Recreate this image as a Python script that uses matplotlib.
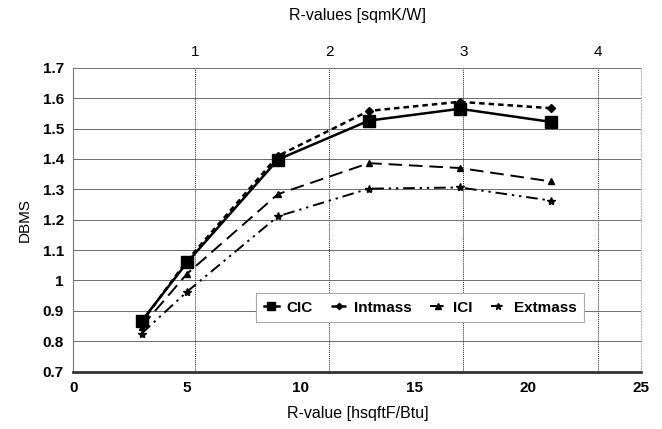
import matplotlib.pyplot as plt
from matplotlib.ticker import FuncFormatter

plt.rcParams['font.family'] = ['Liberation Sans', 'DejaVu Sans']

# R-value in hsqftF/Btu
r_ip = [3, 5, 9, 13, 17, 21]

cic = [0.866, 1.059, 1.398, 1.526, 1.565, 1.522]
intmass = [0.862, 1.066, 1.410, 1.558, 1.588, 1.567]
ici = [0.848, 1.022, 1.284, 1.386, 1.370, 1.326]
extmass = [0.825, 0.963, 1.211, 1.302, 1.306, 1.263]

top_ticks = [1, 2, 3, 4]
# top axis as drawn in the source (roughly the SI conversion)
SI_SCALE = 5.91
SI_OFFSET = -0.57

fig = plt.figure(figsize=(6.62, 4.29), dpi=100)
ax = fig.add_axes([0.111, 0.134, 0.858, 0.708])

ax.plot(r_ip, cic, '-', color='black', lw=1.8, marker='s', ms=8, label='CIC')
ax.plot(r_ip, intmass, color='black', lw=1.8, ls=(0, (2.2, 1.6)), marker='D', ms=4, label='Intmass')
ax.plot(r_ip, ici, color='black', lw=1.4, ls=(0, (7, 3.5)), marker='^', ms=5, label='ICI')
ax.plot(r_ip, extmass, color='black', lw=1.4, ls=(0, (6, 2.5, 1.2, 2.5, 1.2, 2.5)), marker='*', ms=6, label='Extmass')

ax.set_xlim(0, 25)
ax.set_ylim(0.7, 1.7)
ax.set_xticks([0, 5, 10, 15, 20, 25])
ax.set_yticks([0.7, 0.8, 0.9, 1.0, 1.1, 1.2, 1.3, 1.4, 1.5, 1.6, 1.7])
ax.yaxis.set_major_formatter(FuncFormatter(lambda v, p: '%g' % round(v, 1)))
ax.tick_params(axis='both', length=0, labelsize=11, pad=7)
for lab in ax.get_xticklabels() + ax.get_yticklabels():
    lab.set_fontweight('bold')
ax.yaxis.grid(True, color='#555555', lw=0.6)
ax.set_axisbelow(True)

ax.spines['left'].set_color('#777777')
ax.spines['bottom'].set_color('#333333')
ax.spines['bottom'].set_linewidth(2)
ax.spines['top'].set_visible(False)
ax.spines['right'].set_color('#bbbbbb')
ax.spines['right'].set_linestyle(':')

sec = ax.secondary_xaxis('top', functions=(lambda x: (x - SI_OFFSET) / SI_SCALE,
                                           lambda s: s * SI_SCALE + SI_OFFSET))
sec.set_xticks(top_ticks)
sec.tick_params(length=0, labelsize=11, pad=6)
sec.spines['top'].set_visible(False)
for t in top_ticks:
    ax.axvline(t * SI_SCALE + SI_OFFSET, color='#222222', lw=0.7, ls=(0, (1, 1)), zorder=0.5)
sec.set_xlabel('R-values [sqmK/W]', fontsize=11.5, labelpad=18)

ax.set_xlabel('R-value [hsqftF/Btu]', fontsize=11.5, labelpad=8)
ax.set_ylabel('DBMS', fontsize=11, labelpad=8)

leg = ax.legend(loc='center', bbox_to_anchor=(0.61, 0.21), ncol=4, frameon=True,
                fancybox=False, edgecolor='#aaaaaa', framealpha=1,
                handlelength=1.0, handletextpad=0.5, columnspacing=1.2,
                prop={'weight': 'bold', 'size': 11}, borderpad=0.5, markerscale=0.8)
leg.get_frame().set_linewidth(0.8)

fig.savefig('out.png', dpi=100)
